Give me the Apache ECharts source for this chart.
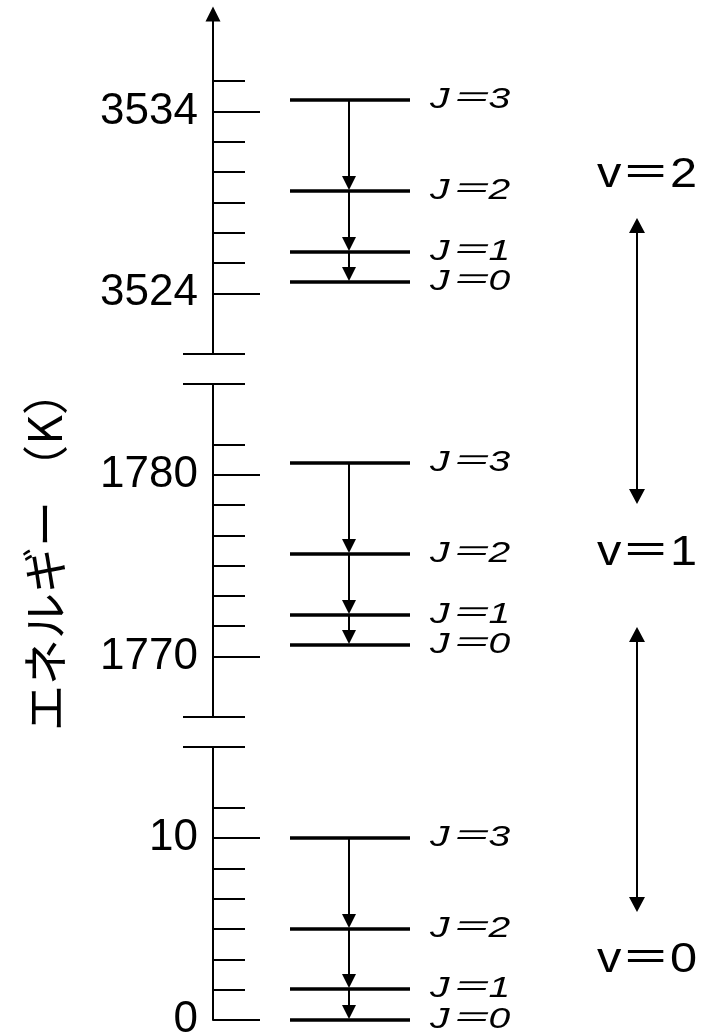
<!DOCTYPE html>
<html><head><meta charset="utf-8">
<script src="https://cdn.jsdelivr.net/npm/echarts@6/dist/echarts.min.js"></script>
<style>html,body{margin:0;padding:0;background:#fff}#c{width:709px;height:1034px}</style>
</head><body><div id="c"></div>
<script>
// ---- data ----
const jNames = ['J＝0', 'J＝1', 'J＝2', 'J＝3'];
const vNames = ['v＝2', 'v＝1', 'v＝0'];
const axisTitle = 'エネルギー （K）';

const levelsV2 = [3524.62, 3526.27, 3529.62, 3534.62];
const levelsV1 = [1770.63, 1772.28, 1775.64, 1780.65];
const levelsV0 = [0, 1.7, 5.0, 10.0];

const majorTicksV2 = [3524, 3534];
const majorTicksV1 = [1770, 1780];
const majorTicksV0 = [0, 10];

const minorTicksV2 = [3525.667, 3527.333, 3529, 3530.667, 3532.333, 3535.667];
const minorTicksV1 = [1771.667, 1773.333, 1775, 1776.667, 1778.333, 1781.667];
const minorTicksV0 = [1.667, 3.333, 5, 6.667, 8.333, 11.667];

const breaksV2 = [3520.667];
const breaksV1 = [1766.667, 1785];
const breaksV0 = [15];

const rangeV2 = [3520.667, 3539.35];
const rangeV1 = [1766.667, 1785];
const rangeV0 = [0, 15];

// ---- layout (pixels / style only) ----
const AXIS_LEFT = 213;
const GRID_BOXES = [{ top: 14, bottom: 680 }, { top: 384, bottom: 317 }, { top: 747, bottom: 14 }];
const X_LEVEL = [77, 197], X_ARROW = 136, X_LABEL = 217, X_BREAK = [-30, 32];
const V_LABEL_POS = [[597, 175], [597, 553], [597, 960]];
const V_ARROWS = [[637, 218, 504], [637, 627, 912]];

const segments = [
  { levels: levelsV2, majors: majorTicksV2, minors: minorTicksV2, breaks: breaksV2, range: rangeV2, arrow: true },
  { levels: levelsV1, majors: majorTicksV1, minors: minorTicksV1, breaks: breaksV1, range: rangeV1, arrow: false },
  { levels: levelsV0, majors: majorTicksV0, minors: minorTicksV0, breaks: breaksV0, range: rangeV0, arrow: false }
];

function levelRenderer(levels) {
  return function (params, api) {
    const i = params.dataIndex;
    const e = api.value(1);
    const a = api.coord([X_LEVEL[0], e]);
    const b = api.coord([X_LEVEL[1], e]);
    const lab = api.coord([X_LABEL, e]);
    const children = [
      { type: 'line', shape: { x1: a[0], y1: a[1], x2: b[0], y2: b[1] }, style: { stroke: '#000', lineWidth: 3.5 } },
      { type: 'text', x: lab[0], y: lab[1], scaleX: 1.3,
        style: { text: jNames[i], fontStyle: 'italic', fontSize: 30, fontFamily: '"Liberation Sans", "Noto Sans CJK JP"', fill: '#000', align: 'left', verticalAlign: 'middle' } }
    ];
    if (i < levels.length - 1) {
      const top = api.coord([X_ARROW, levels[i + 1]]);
      const tip = api.coord([X_ARROW, e]);
      children.push({ type: 'line', shape: { x1: top[0], y1: top[1], x2: tip[0], y2: tip[1] - 10 }, style: { stroke: '#000', lineWidth: 2 } });
      children.push({ type: 'polygon', shape: { points: [[tip[0] - 7, tip[1] - 15], [tip[0] + 7, tip[1] - 15], [tip[0], tip[1] - 1]] }, style: { fill: '#000' } });
    }
    return { type: 'group', children: children };
  };
}

function breakRenderer(params, api) {
  const v = api.value(1);
  const a = api.coord([X_BREAK[0], v]);
  const b = api.coord([X_BREAK[1], v]);
  return { type: 'line', shape: { x1: a[0], y1: a[1], x2: b[0], y2: b[1] }, style: { stroke: '#000', lineWidth: 2 } };
}

const grid = [], xAxis = [], yAxis = [], series = [];
segments.forEach(function (s, k) {
  grid.push({ left: AXIS_LEFT, right: 0, top: GRID_BOXES[k].top, bottom: GRID_BOXES[k].bottom, outerBoundsMode: 'none', containLabel: false });
  xAxis.push({ gridIndex: k, type: 'value', min: 0, max: 496, show: false });
  yAxis.push({
    gridIndex: k, type: 'value', min: s.range[0], max: s.range[1], position: 'left',
    axisLine: { show: true, onZero: false, symbol: s.arrow ? ['none', 'triangle'] : 'none', symbolSize: [15, 15], lineStyle: { color: '#000', width: 2 } },
    axisTick: { show: true, inside: true, length: 32, customValues: s.minors, lineStyle: { color: '#000', width: 2 } },
    axisLabel: { show: false }, splitLine: { show: false }
  });
  yAxis.push({
    gridIndex: k, type: 'value', min: s.range[0], max: s.range[1], position: 'left',
    axisLine: { show: false, onZero: false },
    axisTick: { show: true, inside: true, length: 47, customValues: s.majors, lineStyle: { color: '#000', width: 2 } },
    axisLabel: { show: true, customValues: s.majors, margin: 15, fontSize: 44, fontFamily: '"Liberation Sans", Arial, sans-serif', color: '#000',
      formatter: function (v) { return String(v); } },
    splitLine: { show: false }
  });
  series.push({
    type: 'custom', xAxisIndex: k, yAxisIndex: 2 * k, silent: true,
    data: s.levels.map(function (e, j) { return [j, e]; }),
    renderItem: levelRenderer(s.levels)
  });
  series.push({
    type: 'custom', xAxisIndex: k, yAxisIndex: 2 * k, silent: true,
    data: s.breaks.map(function (b) { return [0, b]; }),
    renderItem: breakRenderer
  });
});

const graphics = [
  { type: 'text', x: 45, y: 550, rotation: Math.PI / 2,
    style: { text: axisTitle, fontSize: 46, fontFamily: '"Noto Sans CJK JP"', fill: '#000', align: 'center', verticalAlign: 'middle' } }
];
vNames.forEach(function (t, i) {
  graphics.push({ type: 'text', x: V_LABEL_POS[i][0], y: V_LABEL_POS[i][1], scaleX: 1.16,
    style: { text: t, fontSize: 42, fontFamily: '"Liberation Sans", "Noto Sans CJK JP"', fill: '#000', align: 'left', verticalAlign: 'middle' } });
});
V_ARROWS.forEach(function (a) {
  const x = a[0], y1 = a[1], y2 = a[2];
  graphics.push({ type: 'line', shape: { x1: x, y1: y1 + 10, x2: x, y2: y2 - 10 }, style: { stroke: '#000', lineWidth: 2 } });
  graphics.push({ type: 'polygon', shape: { points: [[x, y1], [x - 8, y1 + 15], [x + 8, y1 + 15]] }, style: { fill: '#000' } });
  graphics.push({ type: 'polygon', shape: { points: [[x, y2], [x - 8, y2 - 15], [x + 8, y2 - 15]] }, style: { fill: '#000' } });
});

const chart = echarts.init(document.getElementById('c'), null, { renderer: 'canvas' });
chart.setOption({
  animation: false,
  backgroundColor: '#fff',
  grid: grid, xAxis: xAxis, yAxis: yAxis, series: series,
  graphic: graphics
});
</script></body></html>
